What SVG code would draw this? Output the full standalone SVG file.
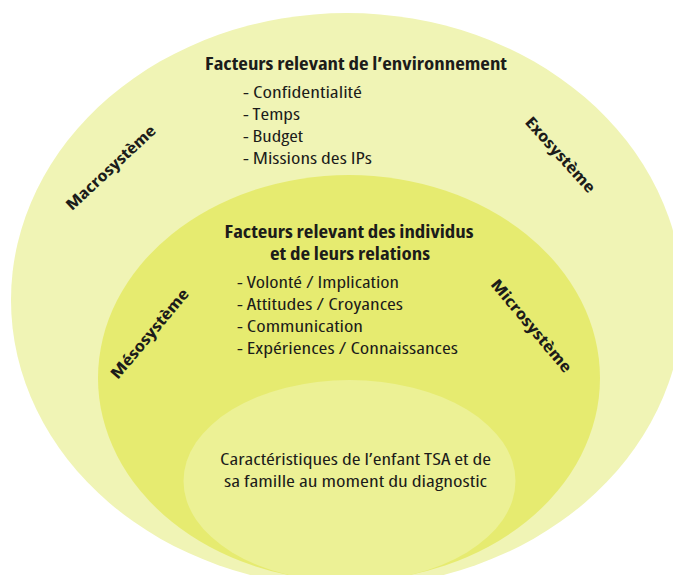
<svg xmlns="http://www.w3.org/2000/svg" width="673" height="575" viewBox="0 0 673 575">
<style>
text { font-family: "Open Sans", "Noto Sans", "Liberation Sans", sans-serif; font-stretch: condensed; fill: #1c1c1a; }
.title { font-size: 17px; font-weight: bold; text-anchor: middle; }
.item { font-size: 16.5px; }
.sys { font-size: 15.5px; font-weight: bold; text-anchor: middle; }
.inner { font-size: 16.5px; text-anchor: middle; }
</style>
<rect width="673" height="575" fill="#ffffff"/>
<g id="exo-macro">
  <ellipse cx="347" cy="300" rx="336" ry="287" fill="#f0f4b5"/>
  <text class="title" x="356" y="70" textLength="302" lengthAdjust="spacingAndGlyphs">Facteurs relevant de l’environnement</text>
  <text class="item" x="243" y="98" textLength="119" lengthAdjust="spacingAndGlyphs">- Confidentialité</text>
  <text class="item" x="243" y="120" textLength="57" lengthAdjust="spacingAndGlyphs">- Temps</text>
  <text class="item" x="243" y="142" textLength="60" lengthAdjust="spacingAndGlyphs">- Budget</text>
  <text class="item" x="243" y="164" textLength="129" lengthAdjust="spacingAndGlyphs">- Missions des IPs</text>
  <text class="sys" transform="translate(111,168) rotate(-43)" y="5" textLength="116" lengthAdjust="spacingAndGlyphs">Macrosystème</text>
  <text class="sys" transform="translate(560,155) rotate(48)" y="5" textLength="96" lengthAdjust="spacingAndGlyphs">Exosystème</text>
</g>
<g id="meso-micro">
  <ellipse cx="349" cy="378" rx="251" ry="203" fill="#e6eb70"/>
  <text class="title" x="349" y="238" textLength="249" lengthAdjust="spacingAndGlyphs">Facteurs relevant des individus</text>
  <text class="title" x="350" y="260" textLength="160" lengthAdjust="spacingAndGlyphs">et de leurs relations</text>
  <text class="item" x="237" y="288" textLength="162" lengthAdjust="spacingAndGlyphs">- Volonté / Implication</text>
  <text class="item" x="237" y="310" textLength="166" lengthAdjust="spacingAndGlyphs">- Attitudes / Croyances</text>
  <text class="item" x="237" y="332" textLength="126" lengthAdjust="spacingAndGlyphs">- Communication</text>
  <text class="item" x="237" y="354" textLength="221" lengthAdjust="spacingAndGlyphs">- Expériences / Connaissances</text>
  <text class="sys" transform="translate(150,334) rotate(-50)" y="5" textLength="112" lengthAdjust="spacingAndGlyphs">Mésosystème</text>
  <text class="sys" transform="translate(531,326) rotate(50)" y="5" textLength="116" lengthAdjust="spacingAndGlyphs">Microsystème</text>
</g>
<g id="enfant">
  <ellipse cx="349.5" cy="481" rx="166" ry="101" fill="#ecf195"/>
  <text class="inner" x="355.5" y="465" textLength="271" lengthAdjust="spacingAndGlyphs">Caractéristiques de l’enfant TSA et de</text>
  <text class="inner" x="355.5" y="487" textLength="263" lengthAdjust="spacingAndGlyphs">sa famille au moment du diagnostic</text>
</g>
</svg>
